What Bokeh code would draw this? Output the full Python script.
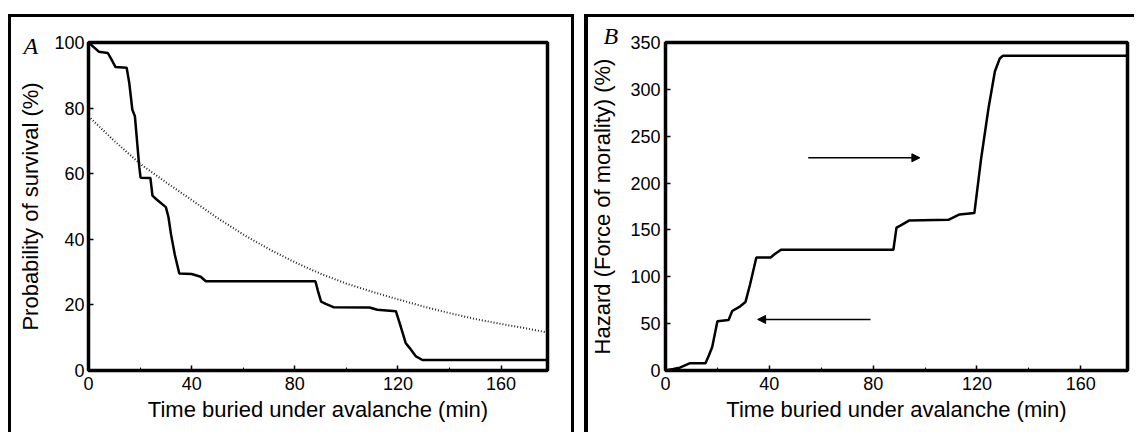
from bokeh.plotting import figure
from bokeh.layouts import row
from bokeh.models import Arrow, NormalHead, FixedTicker, Range1d
from bokeh.embed import file_html
from bokeh.resources import INLINE

# ---------------- data ----------------
# Panel A: Kaplan-Meier survival (%) vs time buried (min)
time_a = [0, 4, 7.5, 9, 10.5, 14.8, 15.8, 17, 18, 19.7, 20.2, 24, 24.8, 26.3, 30, 31,
          32, 33.5, 35.2, 40, 43.5, 45.5, 88, 89, 90.2, 92, 95, 109, 112, 119.2,
          120.7, 123, 124.5, 127, 129.5, 178]
survival_a = [100, 97.2, 96.8, 94.7, 92.5, 92.3, 87.7, 79.5, 77.5, 62, 58.8, 58.7, 53.3,
              52.2, 49.8, 46.8, 41.5, 35.2, 29.6, 29.4, 28.6, 27.2, 27.2, 24.2, 21, 20.3,
              19.3, 19.2, 18.5, 18.1, 14.4, 8.4, 6.9, 4.3, 3.2, 3.2]
# Panel A: fitted curve (dotted)
fit_time = [0, 10, 20, 30, 40, 50, 60, 70, 80, 90, 100, 110, 120, 130, 140, 150, 160, 170, 178]
fit_survival = [77.5, 70, 63, 57.4, 52, 46.5, 41.5, 37, 33, 29.5, 26.5, 24, 21.7, 19.5,
                17.5, 15.7, 14.2, 12.8, 11.6]
# Panel B: hazard (%) vs time buried (min)
time_b = [0, 3, 5.5, 9.5, 15.4, 16.7, 18, 20, 24.3, 25.7, 28.8, 30.8, 32.6, 35, 40.5,
          42, 44.5, 87.8, 89, 90.3, 93.8, 109, 113.3, 119, 121.6, 124.4, 126.9, 128.8,
          130, 178]
hazard_b = [0, 1.5, 3, 7.8, 7.8, 16, 25, 52.5, 53.8, 63.5, 68.5, 73, 92, 120.5, 120.5,
            124, 128.8, 128.8, 152.5, 154.3, 160, 160.8, 166.5, 168, 226, 279, 319, 333,
            335.8, 335.8]

x_ticks = [0, 40, 80, 120, 160]
x_minor = [20, 60, 100, 140]
y_ticks_a = [0, 20, 40, 60, 80, 100]
y_ticks_b = [0, 50, 100, 150, 200, 250, 300, 350]

x_label = "Time buried under avalanche (min)"
y_label_a = "Probability of survival (%)"
y_label_b = "Hazard (Force of morality) (%)"
panel_a = "A"
panel_b = "B"

# arrows in panel B (annotation positions)
arrow_right = dict(x_start=55, x_end=98, y=227)
arrow_left = dict(x_start=79, x_end=35.5, y=54.5)

H = 418
FONT = "Liberation Sans"


def style(p, yticks, letter, offset, standoff):
    p.xgrid.visible = False
    p.ygrid.visible = False
    p.outline_line_color = "black"
    p.outline_line_width = 3.5
    p.background_fill_color = "white"
    p.border_fill_color = None
    for ax in (p.xaxis[0], p.yaxis[0]):
        ax.axis_line_width = 3
        ax.axis_line_color = "black"
        ax.major_tick_in = 5
        ax.major_tick_out = 0
        ax.minor_tick_in = 3
        ax.minor_tick_out = 0
        ax.major_tick_line_width = 1.5
        ax.minor_tick_line_width = 1
        ax.major_label_text_font = FONT
        ax.major_label_text_font_size = "18px"
        ax.major_label_text_color = "black"
        ax.axis_label_text_font = FONT
        ax.axis_label_text_font_size = "22px"
        ax.axis_label_text_font_style = "normal"
        ax.axis_label_text_color = "black"
    p.xaxis[0].ticker = FixedTicker(ticks=x_ticks, minor_ticks=x_minor)
    p.yaxis[0].ticker = FixedTicker(ticks=yticks)
    p.xaxis[0].major_label_standoff = 6
    p.xaxis[0].axis_label_standoff = 4
    p.yaxis[0].major_label_standoff = 4
    p.yaxis[0].axis_label_standoff = 8
    p.xaxis[0].axis_label = x_label
    # panel letter as the figure title, pulled left into the border area
    p.title.text = letter
    p.title.align = "left"
    p.title.offset = offset
    p.title.standoff = standoff
    p.title.text_font = "Liberation Serif"
    p.title.text_font_style = "italic"
    p.title.text_font_size = "24px"
    p.title.text_color = "black"


# ---------------- Panel A ----------------
pA = figure(width=566, height=H, x_range=Range1d(0, 178), y_range=Range1d(0, 100),
            output_backend="svg", toolbar_location=None,
            min_border_left=80, min_border_right=27, min_border_top=26, min_border_bottom=62,
            margin=(14, 0, 0, 8),
            styles={"box-shadow": "inset 3px 3px 0 0 black, inset -3px 0 0 0 black"})
style(pA, y_ticks_a, panel_a, -65, -32)
pA.yaxis[0].axis_label = y_label_a
pA.line(fit_time, fit_survival, line_color="#222222", line_width=2, line_dash="1 2")
pA.line(time_a, survival_a, line_color="black", line_width=2.5)

# ---------------- Panel B ----------------
pB = figure(width=550, height=H, x_range=Range1d(0, 178), y_range=Range1d(0, 350),
            output_backend="svg", toolbar_location=None,
            min_border_left=81, min_border_right=7, min_border_top=28, min_border_bottom=58,
            margin=(14, 0, 0, 10),
            styles={"box-shadow": "inset 4px 3px 0 0 black"})
style(pB, y_ticks_b, panel_b, -62, -13)
pB.yaxis[0].axis_label = y_label_b
pB.yaxis[0].axis_label_standoff = 12
pB.yaxis[0].major_label_standoff = 5
pB.line(time_b, hazard_b, line_color="black", line_width=2.5)
for a in (arrow_right, arrow_left):
    pB.add_layout(Arrow(end=NormalHead(size=8, fill_color="black", line_color="black"),
                        x_start=a["x_start"], y_start=a["y"], x_end=a["x_end"], y_end=a["y"],
                        line_color="black", line_width=1.5))

layout = row(pA, pB)
open("out.html", "w").write(file_html(layout, INLINE))
